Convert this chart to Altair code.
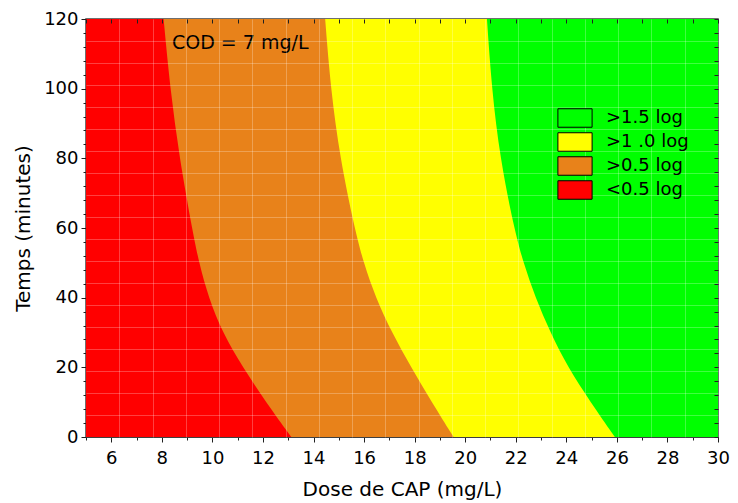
import altair as alt
import pandas as pd

# ---- data ----
TIME = [0, 10, 20, 30, 40, 50, 60, 80, 100, 120]
B_RED_ORANGE = [13.12, 12.12, 11.20, 10.40, 9.85, 9.47, 9.19, 8.70, 8.33, 8.07]
B_ORANGE_YELLOW = [19.54, 18.68, 17.86, 17.10, 16.46, 15.98, 15.62, 15.05, 14.68, 14.46]
B_YELLOW_GREEN = [25.92, 24.96, 24.06, 23.37, 22.78, 22.30, 21.93, 21.38, 21.05, 20.86]

LEVELS = [">1.5 log", ">1 .0 log", ">0.5 log", "<0.5 log"]
COLORS = ["#00FF00", "#FFFF00", "#E8821A", "#FF0000"]

X_DOMAIN = [5, 30]
Y_DOMAIN = [0, 120]
X_TICKS = list(range(5, 31))
Y_TICKS = list(range(0, 121, 4))

ANNOT_TEXT = ["COD = 7 mg/L"]
ANNOT_X = [11.1]
ANNOT_Y = [113]

# faint mesh of the contour triangulation (19 x 19 cells)
MESH_X = [X_DOMAIN[0] + (X_DOMAIN[1] - X_DOMAIN[0]) * k / 19 for k in range(1, 19)]
MESH_Y = [Y_DOMAIN[0] + (Y_DOMAIN[1] - Y_DOMAIN[0]) * k / 19 for k in range(1, 19)]

FONT = "DejaVu Sans"

# regions drawn from their left boundary to the right edge, in order
left_bounds = {
    "<0.5 log": [X_DOMAIN[0]] * len(TIME),
    ">0.5 log": B_RED_ORANGE,
    ">1 .0 log": B_ORANGE_YELLOW,
    ">1.5 log": B_YELLOW_GREEN,
}
draw_order = ["<0.5 log", ">0.5 log", ">1 .0 log", ">1.5 log"]

xscale = alt.Scale(domain=X_DOMAIN, nice=False, zero=False)
yscale = alt.Scale(domain=Y_DOMAIN, nice=False, zero=False)
cscale = alt.Scale(domain=LEVELS, range=COLORS)

x_axis = alt.Axis(
    title="Dose de CAP (mg/L)", values=X_TICKS,
    labelExpr="datum.value % 2 === 0 ? datum.label : ''",
    tickSize={"condition": {"test": "datum.value % 2 === 0", "value": 5}, "value": 3},
    labelOverlap=False, labelFlush=False, grid=False,
    labelPadding=7, titlePadding=12,
)
y_axis = alt.Axis(
    title="Temps (minutes)", values=Y_TICKS,
    labelExpr="datum.value % 20 === 0 ? datum.label : ''",
    tickSize={"condition": {"test": "datum.value % 20 === 0", "value": 5}, "value": 3},
    labelOverlap=False, grid=False,
    labelPadding=3, titlePadding=10,
)

legend = alt.Legend(
    title=None, orient="none", legendX=479, legendY=89,
    symbolType="M-1.85,-1H1.85V1H-1.85Z", symbolSize=342,
    symbolStrokeColor="black", symbolStrokeWidth=1, symbolOpacity=1,
    labelFont=FONT, labelFontSize=18, labelColor="black",
    labelOffset=21, rowPadding=0, padding=0, zindex=2,
)

area_layers = []
for lev in draw_order:
    df = pd.DataFrame({
        "time": TIME,
        "lo": left_bounds[lev],
        "hi": [X_DOMAIN[1]] * len(TIME),
        "level": [lev] * len(TIME),
    })
    area_layers.append(
        alt.Chart(df).mark_area(orient="horizontal", interpolate="basis").encode(
            y=alt.Y("time:Q", scale=yscale, axis=y_axis),
            x=alt.X("lo:Q", scale=xscale, axis=x_axis, stack=None),
            x2="hi:Q",
            color=alt.Color("level:N", scale=cscale, legend=legend),
        )
    )
areas = alt.layer(*area_layers)

annot_df = pd.DataFrame({"x": ANNOT_X, "y": ANNOT_Y, "t": ANNOT_TEXT})

# annotation text; carries the faint mesh grid on hidden top/right axes
text = alt.Chart(annot_df).mark_text(
    font=FONT, fontSize=19, color="black", align="center", baseline="middle"
).encode(
    x=alt.X("x:Q", scale=xscale, axis=alt.Axis(
        orient="top", values=MESH_X, grid=True, gridColor="white", gridOpacity=0.25,
        gridWidth=1, ticks=False, labels=False, domain=False, title=None, zindex=1)),
    y=alt.Y("y:Q", scale=yscale, axis=alt.Axis(
        orient="right", values=MESH_Y, grid=True, gridColor="white", gridOpacity=0.25,
        gridWidth=1, ticks=False, labels=False, domain=False, title=None, zindex=1)),
    text="t:N",
)

# invisible anchor carrying the inward ticks of the top and right frame
frame_ticks = alt.Chart(annot_df).mark_point(opacity=0).encode(
    x=alt.X("x:Q", scale=xscale, axis=alt.Axis(
        orient="top", values=X_TICKS, grid=False, ticks=True, tickSize=4, offset=-4,
        tickColor="#202020", labels=False, domain=False, title=None, zindex=1)),
    y=alt.Y("y:Q", scale=yscale, axis=alt.Axis(
        orient="right", values=Y_TICKS, grid=False, ticks=True, tickSize=4, offset=-4,
        tickColor="#202020", labels=False, domain=False, title=None, zindex=1)),
)

chart = alt.layer(areas, text, frame_ticks).resolve_axis(
    x="independent", y="independent"
).properties(
    width=632, height=418,
    autosize=alt.AutoSizeParams(type="none"),
    padding={"left": 78, "top": 11, "right": 12, "bottom": 64},
    background="white",
).configure_view(
    stroke="#404040", strokeWidth=1.5,
).configure_axis(
    labelFont=FONT, labelFontSize=18, labelColor="black",
    titleFont=FONT, titleFontSize=20, titleColor="black", titleFontWeight="normal",
    domainColor="#404040", tickColor="#202020",
)

chart.save("out.html", embed_options={"renderer": "svg", "actions": False})
